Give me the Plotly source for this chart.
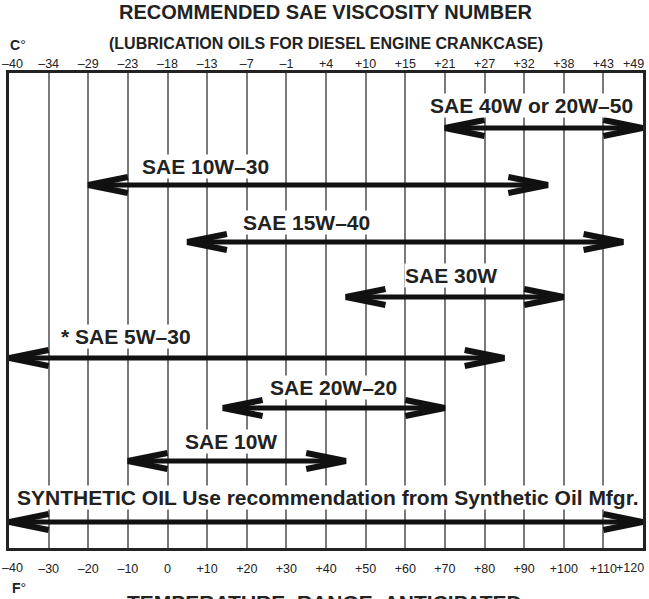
import plotly.graph_objects as go

# Oil grades and their recommended ambient temperature range (deg F)
grades = [
    "SAE 40W or 20W–50",
    "SAE 10W–30",
    "SAE 15W–40",
    "SAE 30W",
    "* SAE 5W–30",
    "SAE 20W–20",
    "SAE 10W",
    "SYNTHETIC OIL Use recommendation from Synthetic Oil Mfgr.",
]
low_f = [70, -20, 5, 45, -40, 14, -10, -40]
high_f = [120, 96, 115, 100, 85, 70, 45, 120]

# Temperature scale ticks
f_ticks = [-40, -30, -20, -10, 0, 10, 20, 30, 40, 50, 60, 70, 80, 90, 100, 110, 120]
f_labels = ["–40", "–30", "–20", "–10", "0", "+10", "+20", "+30", "+40", "+50",
            "+60", "+70", "+80", "+90", "+100", "+110", "+120"]
c_labels = ["–40", "–34", "–29", "–23", "–18", "–13", "–7", "–1", "+4", "+10",
            "+15", "+21", "+27", "+32", "+38", "+43", "+49"]

# Layout: vertical row positions (y axis runs top->bottom in screen units)
W, H = 649, 599
LEFT, RIGHT = 9, 646
TOP, BOTTOM = 73, 548
row_y = [128, 185, 242, 297, 358, 408, 461, 522]
label_y = [105, 166, 222, 275, 336, 387, 441, 497]
label_xf = [91.9, 9.7, 35.1, 71.6, -10.6, 41.9, 15.9, 40.4]
label_size = [21, 21, 21, 21, 21, 21, 21, 21]
HEAD_DX = 10   # arrow head length in deg F
HEAD_DY = 8    # arrow head half height

BOLD = "Liberation Sans, Arial, sans-serif"
REG = "Liberation Sans, Arial, sans-serif"
INK = "#222222"
TICK_SIZE = 12.5

fig = go.Figure()

for lo, hi, y in zip(low_f, high_f, row_y):
    # shaft
    fig.add_trace(go.Scatter(x=[lo + 1, hi - 1], y=[y, y], mode="lines",
                             line=dict(color="#111111", width=5),
                             hoverinfo="skip", showlegend=False))
    # open chevron heads at both ends
    fig.add_trace(go.Scatter(
        x=[lo + HEAD_DX, lo, lo + HEAD_DX, None, hi - HEAD_DX, hi, hi - HEAD_DX],
        y=[y - HEAD_DY, y, y + HEAD_DY, None, y - HEAD_DY, y, y + HEAD_DY],
        mode="lines", line=dict(color="#111111", width=6),
        hoverinfo="skip", showlegend=False))

# invisible trace on the Celsius axis so it is rendered
fig.add_trace(go.Scatter(x=[f_ticks[0], f_ticks[-1]], y=[None, None], xaxis="x2",
                         mode="lines", showlegend=False, hoverinfo="skip"))


def py(p):
    """screen y -> paper coordinate"""
    return (BOTTOM - p) / (BOTTOM - TOP)


annotations = []
for name, xf, ly, fs in zip(grades, label_xf, label_y, label_size):
    annotations.append(dict(
        x=xf, y=ly, xref="x", yref="y", text=f"<b>{name}</b>", showarrow=False,
        font=dict(family=BOLD, size=fs, color=INK),
        bgcolor="white", borderpad=0))

# end labels of both temperature scales sit flush with the frame edges
for lbl_list, yy in ((f_labels, 568), (c_labels, 64)):
    annotations.append(dict(x=f_ticks[0], xref="x", y=py(yy), yref="paper",
                            xanchor="left", yanchor="middle", xshift=-LEFT,
                            showarrow=False, text=lbl_list[0],
                            font=dict(family=REG, size=TICK_SIZE, color=INK)))
    annotations.append(dict(x=f_ticks[-1], xref="x", y=py(yy), yref="paper",
                            xanchor="right", yanchor="middle", xshift=W - RIGHT,
                            showarrow=False, text=lbl_list[-1],
                            font=dict(family=REG, size=TICK_SIZE, color=INK)))

annotations += [
    dict(x=0.5, y=py(12), xref="paper", yref="paper", showarrow=False,
         yanchor="middle", text="<b>RECOMMENDED SAE VISCOSITY NUMBER</b>",
         font=dict(family=BOLD, size=20, color=INK)),
    dict(x=0.5, y=py(43), xref="paper", yref="paper", showarrow=False,
         yanchor="middle", text="<b>(LUBRICATION OILS FOR DIESEL ENGINE CRANKCASE)</b>",
         font=dict(family=BOLD, size=16, color=INK)),
    dict(x=0, y=py(45), xref="paper", yref="paper", showarrow=False,
         xanchor="left", yanchor="middle", xshift=-1, text="<b>C</b>°",
         font=dict(family=REG, size=14, color=INK)),
    dict(x=0, y=py(588), xref="paper", yref="paper", showarrow=False,
         xanchor="left", yanchor="middle", xshift=1, text="<b>F</b>°",
         font=dict(family=REG, size=14, color=INK)),
    dict(x=0.497, y=py(589), xref="paper", yref="paper", showarrow=False,
         yanchor="top", text="<b>TEMPERATURE  RANGE  ANTICIPATED</b>",
         font=dict(family=BOLD, size=21, color=INK)),
]

inner = slice(1, -1)

fig.update_layout(
    width=W, height=H,
    margin=dict(l=LEFT, r=W - RIGHT, t=TOP, b=H - BOTTOM),
    paper_bgcolor="white", plot_bgcolor="white",
    showlegend=False,
    annotations=annotations,
    xaxis=dict(range=[f_ticks[0], f_ticks[-1]], tickmode="array",
               tickvals=f_ticks[inner], ticktext=f_labels[inner],
               showgrid=True, gridcolor="#7a7a7a", gridwidth=2,
               zeroline=False, showline=True, linecolor=INK, linewidth=2.5,
               mirror=True, ticks="", ticklabelstandoff=7,
               tickfont=dict(family=REG, size=TICK_SIZE, color=INK),
               fixedrange=True),
    xaxis2=dict(range=[f_ticks[0], f_ticks[-1]], overlaying="x", side="top",
                tickmode="array", tickvals=f_ticks[inner], ticktext=c_labels[inner],
                showgrid=False, zeroline=False, ticks="", ticklabelstandoff=2,
                tickfont=dict(family=REG, size=TICK_SIZE, color=INK),
                fixedrange=True),
    yaxis=dict(range=[BOTTOM, TOP], showgrid=False, zeroline=False,
               showticklabels=False, ticks="", fixedrange=True,
               showline=True, linecolor=INK, linewidth=2.5, mirror=True),
)

fig.write_html("out.html")
